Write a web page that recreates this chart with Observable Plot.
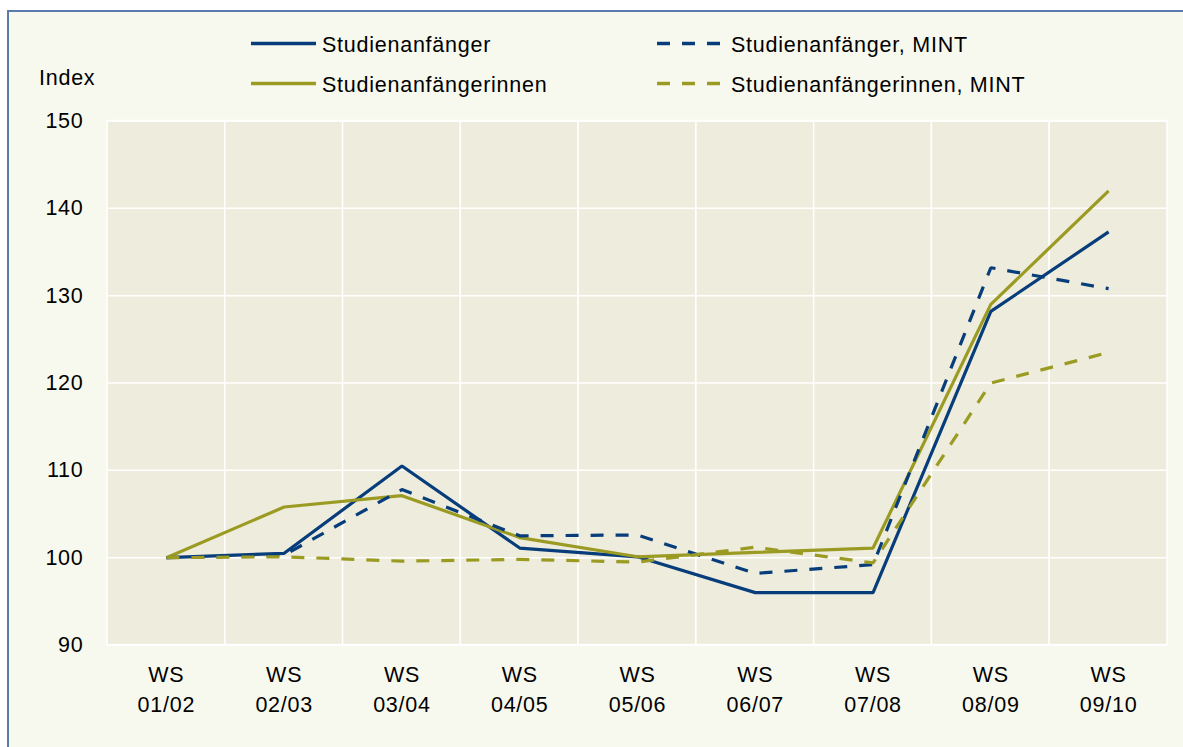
<!DOCTYPE html>
<html><head><meta charset="utf-8">
<script src="https://cdn.jsdelivr.net/npm/d3@7"></script>
<script src="https://cdn.jsdelivr.net/npm/@observablehq/plot@0.6"></script>
<style>
html,body{margin:0;padding:0;background:#fff;width:1183px;height:747px;overflow:hidden;}
#frame{position:absolute;left:7px;top:10px;width:1200px;height:760px;border:2px solid #5B7BAF;background:#F8F9EE;box-sizing:border-box;}
#chart{position:absolute;left:0;top:0;}
#overlay{position:absolute;left:0;top:0;}
svg text{letter-spacing:0.75px;}
</style></head><body>
<div id="frame"></div>
<div id="chart"></div>
<svg id="overlay" width="1183" height="747"></svg>
<script>
const categories = ["WS\n01/02","WS\n02/03","WS\n03/04","WS\n04/05","WS\n05/06","WS\n06/07","WS\n07/08","WS\n08/09","WS\n09/10"];
const studienanfaenger      = [100, 100.5, 110.5, 101.1, 100.1, 96.0, 96.0, 128.2, 137.3];
const studienanfaengerinnen = [100, 105.8, 107.1, 102.3, 100.1, 100.6, 101.1, 129.0, 142.0];
const studienanfaengerMint  = [100, 100.3, 107.8, 102.5, 102.6, 98.2, 99.2, 133.2, 130.8];
const studienanfaengerinnenMint = [100, 100.1, 99.6, 99.8, 99.5, 101.2, 99.4, 120.0, 123.5];
const yTicks = [90, 100, 110, 120, 130, 140, 150];
const seriesNames = ["Studienanfänger", "Studienanfängerinnen", "Studienanfänger, MINT", "Studienanfängerinnen, MINT"];

const NAVY = "#073D7B", OLIVE = "#9B9B24";
const series = [
  {name: seriesNames[0], values: studienanfaenger, color: NAVY, dash: null},
  {name: seriesNames[1], values: studienanfaengerinnen, color: OLIVE, dash: null},
  {name: seriesNames[2], values: studienanfaengerMint, color: NAVY, dash: "13,12"},
  {name: seriesNames[3], values: studienanfaengerinnenMint, color: OLIVE, dash: "13,12"}
];
const rows = [];
series.forEach(s => categories.forEach((c, i) => rows.push({cat: c, value: s.values[i], series: s.name})));

const plot = Plot.plot({
  width: 1183, height: 747,
  marginLeft: 107, marginRight: 16, marginTop: 120.5, marginBottom: 102.5,
  style: {background: "transparent", fontFamily: "'Liberation Sans', Arial, sans-serif", fontSize: "21.5px", color: "#000"},
  x: {type: "band", domain: categories, padding: 0, round: false, label: null},
  y: {domain: [yTicks[0], yTicks[yTicks.length - 1]], label: null},
  marks: [
    Plot.cell(categories, {x: d => d, fill: "#EEECDC", stroke: "white", strokeWidth: 1.5, inset: 0}),
    Plot.gridY(yTicks, {stroke: "white", strokeOpacity: 1, strokeWidth: 1.5}),
    Plot.axisY(yTicks, {tickSize: 0, tickPadding: 24, fontSize: 21.5, fill: "#000"}),
    Plot.axisX({tickSize: 0, tickPadding: 16, lineHeight: 1.4, fontSize: 21.5, fill: "#000"}),
    ...series.map(s => Plot.lineY(rows.filter(r => r.series === s.name), {
      x: "cat", y: "value", stroke: s.color, strokeWidth: 3.2,
      strokeDasharray: s.dash, strokeLinejoin: "miter", strokeLinecap: "butt"
    }))
  ]
});
document.getElementById("chart").appendChild(plot);

// Legend and axis title overlay
const ov = d3.select("#overlay");
const font = "'Liberation Sans', Arial, sans-serif";
ov.append("text").attr("x", 39).attr("y", 85).attr("font-family", font).attr("font-size", 21.5).text("Index");
const legendPos = [
  {x: 251, y: 43.5}, {x: 251, y: 83.5}, {x: 657, y: 43.5}, {x: 657, y: 83.5}
];
series.forEach((s, i) => {
  const p = legendPos[i];
  ov.append("line").attr("x1", p.x).attr("x2", p.x + 65).attr("y1", p.y).attr("y2", p.y)
    .attr("stroke", s.color).attr("stroke-width", 3.5).attr("stroke-dasharray", s.dash);
  ov.append("text").attr("x", p.x + (s.dash ? 74 : 71)).attr("y", p.y + 8.3)
    .attr("font-family", font).attr("font-size", 21.5).text(s.name);
});
</script>
</body></html>
